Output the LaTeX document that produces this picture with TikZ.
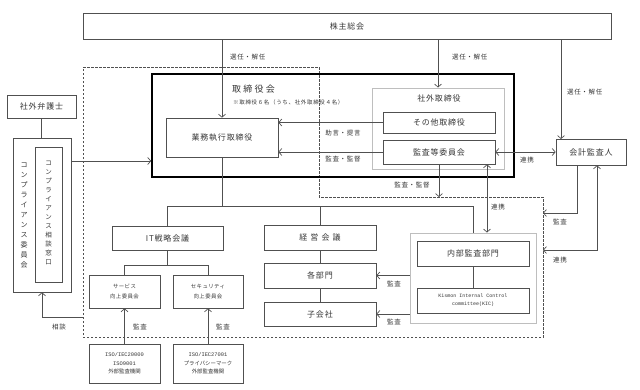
\documentclass[tikz,border=0pt]{standalone}
\usepackage{fontspec}
\setmainfont{Noto Sans CJK JP}
\newfontfamily\kicmono{Liberation Mono}
\usetikzlibrary{arrows.meta,positioning}
\definecolor{ln}{RGB}{80,80,80}
\definecolor{tx}{RGB}{55,55,55}
\definecolor{gf}{RGB}{190,190,190}

\begin{document}
\begin{tikzpicture}[
        x=1pt, y=-1pt,
        unit/.style={rectangle, draw=ln, line width=0.7pt, inner sep=0pt, fill=white, text=tx,
            font=\fontsize{8}{10}\selectfont\addfontfeature{LetterSpace=10}},
        small/.style={unit, align=center, font=\fontsize{5.4}{9.5}\selectfont\addfontfeature{LetterSpace=8}},
        grayframe/.style={rectangle, draw=gf, line width=1pt, inner sep=0pt},
        vt/.style={align=center, text=tx, inner sep=0pt, font=\fontsize{7}{10}\selectfont},
        lab/.style={text=tx, inner sep=0pt, font=\fontsize{6.5}{8}\selectfont\addfontfeature{LetterSpace=10}},
        con/.style={draw=ln, line width=0.7pt},
        arr/.style={con, -{Straight Barb[length=3pt,width=7pt]}},
        barr/.style={con, {Straight Barb[length=3pt,width=7pt]}-{Straight Barb[length=3pt,width=7pt]}},
    ]
        \useasboundingbox (0,0) rectangle (640,389);

        % Dashed area (executive side)
        \draw[ln, line width=0.8pt, dash pattern=on 2.5pt off 1.5pt]
            (83,67) -- (319,67) -- (319,197) -- (543,197) -- (543,337) -- (83,337) -- cycle;
        \coordinate (dashA) at (438,197);
        \coordinate (dashB) at (543,213);
        \coordinate (dashC) at (543,250);
        \coordinate (dashD) at (83,317);

        % Board of directors (thick frame)
        \node[draw=black, line width=1.6pt, minimum width=362pt, minimum height=103pt] (board) at (333,125.5) {};
        \node[text=tx, anchor=west, inner sep=0pt, font=\fontsize{9}{10}\selectfont\addfontfeature{LetterSpace=25}] (boardlab) at (232,89) {取締役会};
        \node[text=tx, anchor=west, inner sep=0pt, font=\fontsize{5.5}{6}\selectfont\addfontfeature{LetterSpace=12}] (boardnote) at (233,102) {※取締役６名（うち、社外取締役４名）};

        % Top boxes
        \node[unit, minimum width=528pt, minimum height=26pt] (gm) at (347,26) {株主総会};
        \node[unit, minimum width=112pt, minimum height=39pt] (exec) at (222,137.5) {業務執行取締役};
        \node[grayframe, minimum width=132pt, minimum height=81pt] (outdir) at (438,128.5) {};
        \node[text=tx, inner sep=0pt, font=\fontsize{8}{10}\selectfont\addfontfeature{LetterSpace=10}] (outlab) at (439,98) {社外取締役};
        \node[unit, minimum width=112pt, minimum height=21pt] (other) at (439,122.5) {その他取締役};
        \node[unit, minimum width=112pt, minimum height=24pt] (acc) at (439,152) {監査等委員会};
        \node[unit, minimum width=70pt, minimum height=26pt] (auditor) at (591,152) {会計監査人};

        % Compliance (left)
        \node[unit, minimum width=69pt, minimum height=23pt] (lawyer) at (41.5,106.5) {社外弁護士};
        \node[unit, minimum width=58pt, minimum height=154pt] (comp) at (42,215) {};
        \node[vt] (comptxt) at (24,215) {コ\\ン\\プ\\ラ\\イ\\ア\\ン\\ス\\委\\員\\会};
        \node[unit, minimum width=27pt, minimum height=135pt] (desk) at (48.5,214.5) {};
        \node[vt, font=\fontsize{6.5}{9}\selectfont] (desktxt) at (48.5,213) {コ\\ン\\プ\\ラ\\イ\\ア\\ン\\ス\\相\\談\\窓\\口};

        % IT strategy side
        \node[unit, minimum width=111pt, minimum height=24pt] (it) at (167.5,238) {IT戦略会議};
        \node[small, minimum width=71pt, minimum height=33pt] (svc) at (124.5,291.5) {サービス\\向上委員会};
        \node[small, minimum width=70pt, minimum height=33pt] (sec) at (208,291.5) {セキュリティ\\向上委員会};
        \node[small, minimum width=71pt, minimum height=39pt, font=\fontsize{5.4}{8.5}\selectfont] (iso1) at (124.5,363.5) {{\kicmono ISO/IEC20000}\\{\kicmono ISO9001}\\外部監査機関};
        \node[small, minimum width=70pt, minimum height=39pt, font=\fontsize{5.4}{8.5}\selectfont] (iso2) at (208,363.5) {{\kicmono ISO/IEC27001}\\プライバシーマーク\\外部監査機関};

        % Management side
        \node[unit, minimum width=112pt, minimum height=25pt, font=\fontsize{8}{10}\selectfont\addfontfeature{LetterSpace=38}] (mgmt) at (320,237.5) {経営会議};
        \node[unit, minimum width=112pt, minimum height=25pt] (dept) at (320,275.5) {各部門};
        \node[unit, minimum width=112pt, minimum height=24pt] (sub) at (320,314) {子会社};

        % Internal audit
        \node[grayframe, minimum width=126pt, minimum height=90pt] (iaframe) at (473,278) {};
        \node[unit, minimum width=112pt, minimum height=25pt] (ia) at (473,253.5) {内部監査部門};
        \node[unit, minimum width=112pt, minimum height=25pt, align=center, font=\kicmono\fontsize{5}{8}\selectfont] (kic) at (473,300.5) {Kismon Internal Control\\committee(KIC)};

        % Appointment lines
        \coordinate (audtop) at (561,139);
        \draw[arr] (exec.north |- gm.south) -- (exec.north);
        \draw[arr] (gm.south -| outdir.north) -- (outdir.north);
        \draw[arr] (audtop |- gm.south) -- (audtop);
        \node[lab, anchor=west] (sel1) at (230,57) {選任・解任};
        \node[lab, anchor=west] (sel2) at (452,57) {選任・解任};
        \node[lab, anchor=west] (sel3) at (567,92) {選任・解任};

        % Board links
        \draw[arr] (other.west) -- (other.west -| exec.east);
        \draw[arr] (acc.west) -- (acc.west -| exec.east);
        \node[lab] (advice) at (343,133) {助言・提言};
        \node[lab] (supv1) at (343,159) {監査・監督};
        \draw[arr] (acc.south) -- (acc.south |- dashA);
        \node[lab] (supv2) at (412,185) {監査・監督};
        \draw[barr] (acc.east) -- (auditor.west);
        \node[lab] (coop1) at (527,160) {連携};
        \coordinate (kx) at (487,0);
        \draw[barr] (acc.south -| kx) -- (iaframe.north -| kx);
        \node[lab] (coop2) at (498,207) {連携};

        % Accounting auditor links
        \draw[arr] ([xshift=-14pt]auditor.south) |- (dashB);
        \node[lab] (aud1) at (560,222) {監査};
        \draw[barr] (dashC) -| ([xshift=6pt]auditor.south);
        \node[lab] (coop3) at (560,260) {連携};

        % Compliance links
        \coordinate (cy) at (0,161);
        \draw[con] (lawyer.south) -- (lawyer.south |- comp.north);
        \draw[arr] (comp.east |- cy) -- (board.west |- cy);
        \draw[arr] (dashD) -| (comp.south);
        \node[lab] (consult) at (59,327) {相談};

        % Organisation tree
        \coordinate (tree) at (0,206);
        \draw[con] (exec.south) -- (exec.south |- tree);
        \draw[con] (it.north |- tree) -- (iaframe.north |- tree);
        \draw[con] (it.north |- tree) -- (it.north);
        \draw[con] (mgmt.north |- tree) -- (mgmt.north);
        \draw[con] (iaframe.north |- tree) -- (iaframe.north);
        \coordinate (itb) at (0,265);
        \draw[con] (it.south) -- (it.south |- itb);
        \draw[con] (svc.north |- itb) -- (sec.north |- itb);
        \draw[con] (svc.north |- itb) -- (svc.north);
        \draw[con] (sec.north |- itb) -- (sec.north);
        \draw[arr] (iso1.north) -- (svc.south);
        \draw[arr] (iso2.north) -- (sec.south);
        \node[lab] (aud2) at (140,327) {監査};
        \node[lab] (aud3) at (223,327) {監査};
        \draw[con] (mgmt.south) -- (dept.north);
        \draw[con] (dept.south) -- (sub.north);
        \draw[con] (ia.south) -- (kic.north);

        % Internal audit links
        \draw[arr] (iaframe.west |- dept.east) -- (dept.east);
        \draw[arr] (iaframe.west |- sub.east) -- (sub.east);
        \node[lab] (aud4) at (394,284) {監査};
        \node[lab] (aud5) at (394,322) {監査};
    \end{tikzpicture}
\end{document}
